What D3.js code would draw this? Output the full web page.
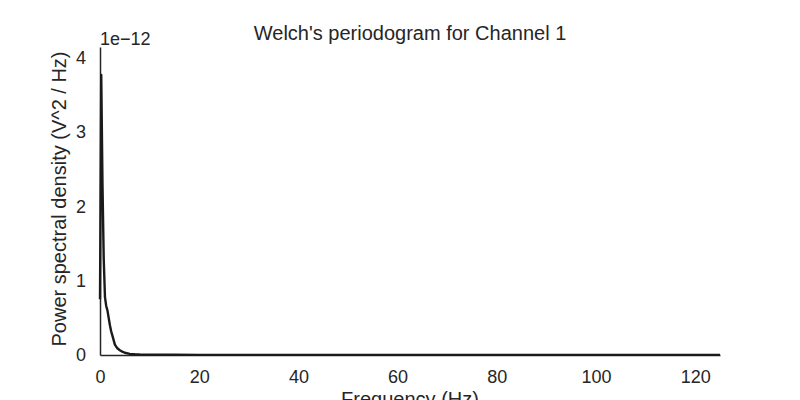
<!DOCTYPE html>
<html>
<head>
<meta charset="utf-8">
<script src="https://cdn.jsdelivr.net/npm/d3@7"></script>
<style>
  body { margin: 0; background: #fff; }
  svg { font-family: "Liberation Sans", Arial, sans-serif; }
</style>
</head>
<body>
<svg id="chart" width="800" height="400"></svg>
<script>
// Frequency (Hz) and power spectral density (units of 1e-12 V^2/Hz)
const freqs = [0, 0.25, 0.5, 0.75, 1.0, 1.25, 1.5, 1.75, 2.0, 2.25, 2.5, 2.75, 3.0, 3.5, 4.0, 4.5, 5.0, 6, 7, 8, 10, 15, 20, 30, 40, 50, 60, 70, 80, 90, 100, 110, 120, 125];
const psd   = [0.75, 3.77, 2.3, 1.3, 0.78, 0.66, 0.6, 0.5, 0.4, 0.32, 0.26, 0.2, 0.14, 0.09, 0.065, 0.045, 0.03, 0.015, 0.01, 0.007, 0.005, 0.003, 0.002, 0.002, 0.002, 0.002, 0.002, 0.002, 0.002, 0.002, 0.002, 0.002, 0.002, 0.002];
const xTicks = [0, 20, 40, 60, 80, 100, 120];
const yTicks = [0, 1, 2, 3, 4];
const title = "Welch's periodogram for Channel 1";
const xLabel = "Frequency (Hz)";
const yLabel = "Power spectral density (V^2 / Hz)";
const offsetText = "1e\u221212";

const svg = d3.select("#chart");
const margin = {left: 100, right: 80, top: 47, bottom: 45};
const W = 800, H = 400;
const x = d3.scaleLinear().domain([0, 125]).range([margin.left, W - margin.right]);
const y = d3.scaleLinear().domain([0, 4.145]).range([H - margin.bottom, margin.top]);

const axisColor = "#262626";

// x axis
const gx = svg.append("g")
  .attr("transform", `translate(0,${H - margin.bottom})`)
  .call(d3.axisBottom(x).tickValues(xTicks).tickSize(0).tickPadding(15));
gx.select(".domain").attr("stroke", axisColor).attr("stroke-width", 1.5);
gx.selectAll("text").attr("fill", axisColor).style("font-size", "18px");

// y axis
const gy = svg.append("g")
  .attr("transform", `translate(${margin.left},0)`)
  .call(d3.axisLeft(y).tickValues(yTicks).tickSize(0).tickPadding(14).tickFormat(d3.format("d")));
gy.select(".domain").attr("stroke", axisColor).attr("stroke-width", 1.5);
gy.selectAll("text").attr("fill", axisColor).style("font-size", "18px");

// line
const pts = freqs.map((f, i) => [f, psd[i]]);
svg.append("path")
  .datum(pts)
  .attr("fill", "none")
  .attr("stroke", "#1a1a1a")
  .attr("stroke-width", 2.4)
  .attr("stroke-linejoin", "round")
  .attr("d", d3.line().x(d => x(d[0])).y(d => y(d[1])));

// offset text
svg.append("text")
  .attr("x", margin.left)
  .attr("y", 45)
  .attr("fill", axisColor)
  .style("font-size", "18px")
  .text(offsetText);

// title
svg.append("text")
  .attr("x", (x.range()[0] + x.range()[1]) / 2)
  .attr("y", 40)
  .attr("text-anchor", "middle")
  .attr("fill", axisColor)
  .style("font-size", "20px")
  .text(title);

// x label
svg.append("text")
  .attr("x", (x.range()[0] + x.range()[1]) / 2)
  .attr("y", 406)
  .attr("text-anchor", "middle")
  .attr("fill", axisColor)
  .style("font-size", "20px")
  .text(xLabel);

// y label
svg.append("text")
  .attr("transform", `translate(66,${(y.range()[0] + y.range()[1]) / 2 - 2}) rotate(-90)`)
  .attr("text-anchor", "middle")
  .attr("fill", axisColor)
  .style("font-size", "20px")
  .text(yLabel);
</script>
</body>
</html>
